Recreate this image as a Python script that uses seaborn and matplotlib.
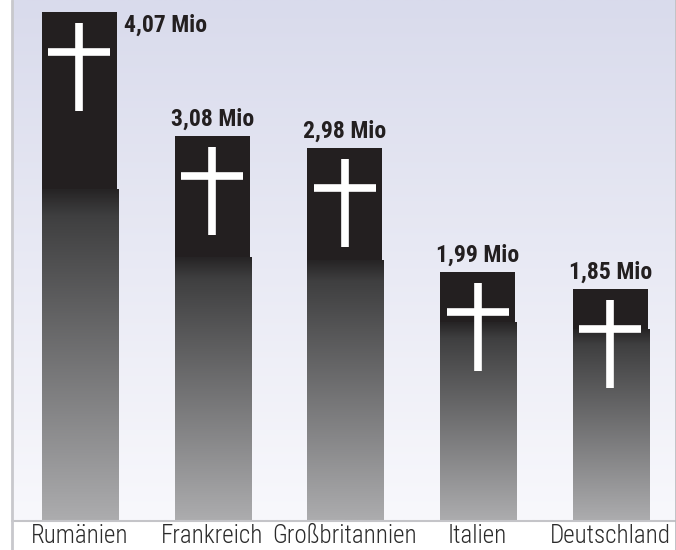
import numpy as np
import pandas as pd
import matplotlib
matplotlib.use("Agg")
import matplotlib.pyplot as plt
import seaborn as sns
from matplotlib.colors import LinearSegmentedColormap
from matplotlib.lines import Line2D

# data
countries = ["Rumänien", "Frankreich", "Großbritannien", "Italien", "Deutschland"]
values = [4.07, 3.08, 2.98, 1.99, 1.85]
value_labels = ["4,07 Mio", "3,08 Mio", "2,98 Mio", "1,99 Mio", "1,85 Mio"]

# how far the solid black top reaches down (pixels), per bar
black_px = [178, 122, 112, 51, 40]

df = pd.DataFrame({"land": countries, "tote": values})

sns.set_style("white")
narrow = ["Roboto Condensed", "DejaVu Sans"]
plt.rcParams["font.family"] = narrow

W, H = 676, 550
fig = plt.figure(figsize=(W / 100, H / 100), dpi=100)
fig.patch.set_facecolor("white")
ax_h = 520
ax = fig.add_axes([12 / W, (H - ax_h) / H, 663 / W, ax_h / H])

ymax = max(values) * ax_h / 508
px_y = ax_h / ymax          # pixels per unit (y)
xmin, xmax = -0.508, 4.486
px_x = 663 / (xmax - xmin)  # pixels per unit (x)

# panel background gradient
bg = LinearSegmentedColormap.from_list("bg", ["#f8f8fc", "#d9dbec"])
ax.imshow(np.linspace(0, 1, 256).reshape(-1, 1), cmap=bg, aspect="auto",
          extent=(xmin, xmax, 0, ymax), origin="lower", zorder=0)

sns.barplot(data=df, x="land", y="tote", color="#231f20", saturation=1,
            width=0.565, linewidth=0, ax=ax, zorder=2)

bar_grad = LinearSegmentedColormap.from_list(
    "bar", [(0, "#acacae"), (0.92, "#3f3f40"), (1, "#262425")])
for p, b in zip(ax.patches, black_px):
    x0 = p.get_x()
    x1 = x0 + p.get_width()
    top = p.get_height()
    g_top = top - b / px_y
    ax.imshow(np.linspace(0, 1, 256).reshape(-1, 1), cmap=bar_grad, aspect="auto",
              extent=(x0, x1 + 1 / px_x, 0, g_top), origin="lower", zorder=3)

# crosses and labels
for i, (p, lab) in enumerate(zip(ax.patches, value_labels)):
    cx = p.get_x() + p.get_width() / 2
    top = p.get_height()
    ax.plot([cx, cx], [top - 11 / px_y, top - 99 / px_y], color="white",
            lw=5.5, solid_capstyle="butt", zorder=4)
    ax.plot([cx - 31 / px_x, cx + 31 / px_x], [top - 40 / px_y] * 2, color="white",
            lw=5.5, solid_capstyle="butt", zorder=4)
    if i == 0:
        ax.annotate(lab, (p.get_x() + p.get_width(), top), xytext=(5, -14.4),
                    textcoords="offset points", ha="left", va="baseline",
                    fontsize=17, fontweight="bold", color="#231f20", family=narrow)
    else:
        ax.annotate(lab, (cx, top), xytext=(0, 7.2), textcoords="offset points",
                    ha="center", va="baseline", fontsize=17, fontweight="bold",
                    color="#231f20", family=narrow)

ax.set_xlim(xmin, xmax)
ax.set_ylim(0, ymax)
ax.set_xlabel("")
ax.set_ylabel("")
ax.set_yticks([])
ax.tick_params(axis="x", length=0, pad=3, labelsize=18, labelcolor="#2b2b2b")
for t in ax.get_xticklabels():
    t.set_fontweight(300)
for s in ax.spines.values():
    s.set_visible(False)

# frame lines
fig.add_artist(Line2D([12 / W, 1], [(H - 521) / H] * 2, color="#c4c4c8", lw=1.5))
fig.add_artist(Line2D([12 / W] * 2, [0, 1], color="#c8c8cc", lw=2))
fig.add_artist(Line2D([675.5 / W] * 2, [0, 1], color="#b8b8bc", lw=1.2))

fig.savefig("out.png", dpi=100)
